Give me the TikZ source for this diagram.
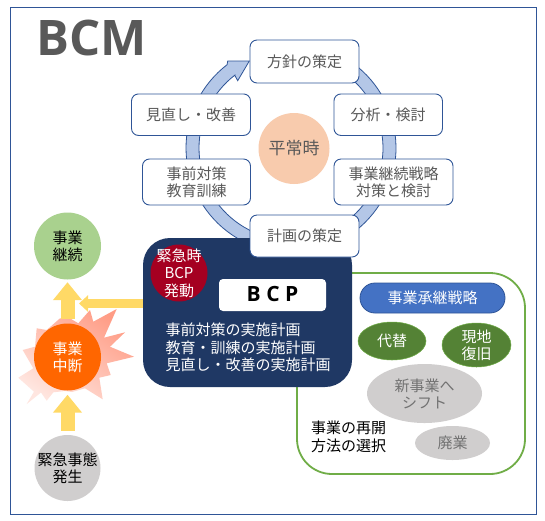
\documentclass[tikz,border=0pt]{standalone}
\usepackage{fontspec}
\setmainfont{Noto Sans CJK JP}
\newfontfamily\latinbold{Open Sans}
\usetikzlibrary{shapes.geometric,arrows.meta}
\definecolor{framec}{HTML}{2F5597}
\definecolor{textg}{HTML}{595959}
\definecolor{ringc}{HTML}{B4C7E7}
\definecolor{navy}{HTML}{1F3864}
\definecolor{crimson}{HTML}{A50021}
\definecolor{gold}{HTML}{FFD966}
\definecolor{grassc}{HTML}{70AD47}
\definecolor{darkgreen}{HTML}{548235}
\definecolor{lightgreen}{HTML}{A9D18E}
\definecolor{greyc}{HTML}{D0CECE}
\definecolor{peach}{HTML}{F8CBAD}
\definecolor{orangec}{HTML}{FF6600}
\definecolor{bluec}{HTML}{4472C4}
\definecolor{burstA}{HTML}{FF9C85}
\definecolor{burstB}{HTML}{FFE6E0}
\tikzset{
  x=1pt,y=-1pt,
  txt/.style={font=\fontsize{15}{17}\selectfont,align=center,inner sep=0pt},
  cyclebox/.style={txt,draw=framec,line width=0.9pt,fill=white,rounded corners=7pt,text=textg},
  disc/.style={txt,circle,inner sep=-20pt,minimum size=67pt},
  oval/.style={txt,ellipse,inner sep=-20pt},
  blockarrow/.style={gold,line width=14pt,-{Triangle[length=18pt,width=28pt]}},
}
\begin{document}
\begin{tikzpicture}
\useasboundingbox (0,0) rectangle (545,520);
\fill[white] (0,0) rectangle (545,520);
\draw[framec,line width=0.9pt] (10.5,7) rectangle (536,514);
\node[anchor=base west,inner sep=0pt,text=textg,font=\latinbold\bfseries\fontsize{49}{49}\selectfont] (title) at (36,55) {BCM};
% ring arrow
\draw[framec,line width=0.8pt,fill=ringc,line join=miter]
  plot[domain=60:-232.5,samples=90] ({291+105*cos(\x)},{148-105*sin(\x)})
  -- (227.7,61) -- (249.3,61) -- (237.7,80.7) -- (235,75.7)
  -- plot[domain=-232.5:60,samples=90] ({291+92*cos(\x)},{148-92*sin(\x)}) -- cycle;
\node[disc,minimum size=71pt,fill=peach,text=textg,font=\fontsize{17}{20}\selectfont] (calm) at (294,148.5) {平常時};
\node[cyclebox,minimum width=109pt,minimum height=43pt] (policy) at (304.5,61.5) {方針の策定};
\node[cyclebox,minimum width=108.5pt,minimum height=41.5pt] (analysis) at (388.2,114.7) {分析・検討};
\node[cyclebox,minimum width=119pt,minimum height=41.5pt] (review) at (191,114.7) {見直し・改善};
\node[cyclebox,minimum width=108pt,minimum height=46pt] (measures) at (196.5,182) {事前対策\\教育訓練};
\node[cyclebox,minimum width=119pt,minimum height=46pt] (strategy) at (393.5,182) {事業継続戦略\\対策と検討};
% green frame
\node[draw=grassc,line width=1.8pt,fill=white,rounded corners=35pt,minimum width=228pt,minimum height=201pt,inner sep=0pt] (choice) at (411,373.5) {};
% navy panel
\node[fill=navy,rounded corners=27pt,minimum width=209pt,minimum height=149pt,inner sep=0pt] (bcppanel) at (247.5,312.5) {};
\node[cyclebox,minimum width=109pt,minimum height=42pt] (plan) at (304.5,236) {計画の策定};
\node[disc,fill=crimson,minimum size=57pt,text=white,font=\fontsize{15}{17.5}\selectfont] (trigger) at (179,273) {緊急時\\BCP\\発動};
\node[fill=white,rounded corners=4pt,minimum width=107pt,minimum height=32pt,inner sep=0pt,font=\latinbold\bfseries\fontsize{21}{21}\selectfont] (bcp) at (272.5,295) {\raisebox{2pt}{B C P}};
\node[txt,anchor=north west,align=left,text=white,font=\fontsize{15}{17.5}\selectfont] (planlist) at (165.5,323) {事前対策の実施計画\\教育・訓練の実施計画\\見直し・改善の実施計画};
% right panel
\node[txt,draw=framec,line width=0.8pt,fill=bluec,rounded corners=15pt,minimum width=145pt,minimum height=30pt,text=white] (succession) at (432.5,298) {事業承継戦略};
\node[oval,fill=darkgreen,draw=grassc,line width=0.5pt,minimum width=68pt,minimum height=38pt,text=white] (alt) at (392,341) {代替};
\node[oval,fill=darkgreen,draw=grassc,line width=0.5pt,minimum width=69pt,minimum height=44pt,text=white] (restore) at (476.5,345) {現地\\復旧};
\node[oval,fill=greyc,minimum width=115pt,minimum height=59pt,text=textg!85] (shift) at (424.5,393.5) {新事業へ\\シフト};
\node[oval,fill=greyc,minimum width=75pt,minimum height=34pt,text=textg!85] (closure) at (452.5,443) {廃業};
\node[txt,anchor=north west,align=left,text=black,font=\fontsize{15}{18}\selectfont] (method) at (311,421) {事業の再開\\方法の選択};
% left column
\node[disc,fill=lightgreen,text=black] (continue) at (67.5,246) {事業\\継続};
\node[disc,fill=greyc,text=black,minimum size=66pt] (event) at (67.5,468) {緊急事態\\発生};
\shade[top color=burstA,bottom color=burstB,shading angle=-35]
  (90,310) -- (93.3,321.7) -- (116.7,309) -- (104,337.7) -- (125,332.3) -- (110,346.7) -- (134,356.7) -- (106.7,363.3) -- (110.7,375) -- (99.3,377.7) -- (102.7,399.3) -- (85,388.3) -- (72,392) -- (65,391) -- (53.3,392.3) -- (46.7,400.7) -- (41,392.5) -- (26.7,404) -- (34,391.7) -- (18.3,377.7) -- (33.3,368.3) -- (22.7,350) -- (35,346.7) -- (36.7,328.3) -- (46.7,330) -- (60,318.3) -- (70,318.3) -- (78.3,323.3) -- cycle;
\node[disc,fill=orangec,text=white] (stop) at (67.5,357) {事業\\中断};
\draw[blockarrow,shorten <=4pt,shorten >=2.5pt] (stop.north) -- (continue.south);
\draw[blockarrow,shorten <=4pt,shorten >=4pt] (event.north) -- (stop.south);
\coordinate (armstart) at (bcppanel.west |- 0,303.5);
\coordinate (armend) at (79,303.5);
\draw[gold,line width=9pt,-{Triangle[length=9pt,width=16pt]}] (armstart) -- (armend);
\end{tikzpicture}
\end{document}
